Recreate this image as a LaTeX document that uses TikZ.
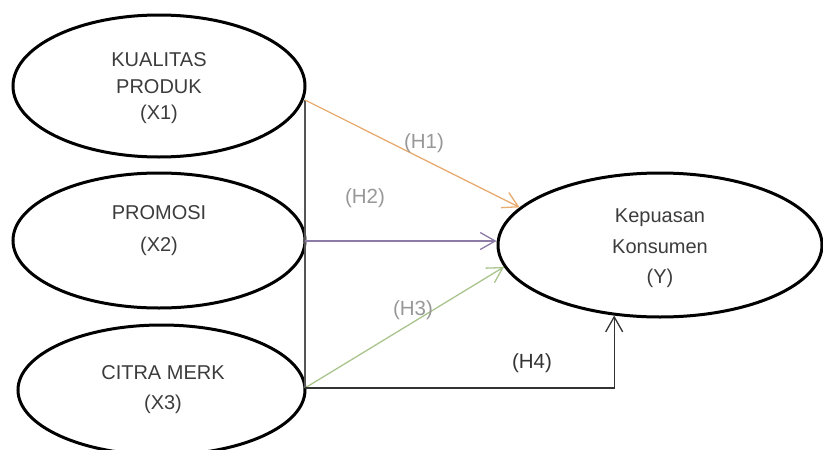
\documentclass[tikz,border=0pt]{standalone}
\usepackage{fontspec}
\setmainfont{Liberation Sans}
\usetikzlibrary{shapes.geometric,arrows.meta}

\definecolor{inktext}{HTML}{3C3C3C}
\definecolor{hlabel}{HTML}{989898}
\definecolor{hfour}{HTML}{333333}
\definecolor{orangeline}{HTML}{E9AC70}
\definecolor{purpleline}{HTML}{8C7BA6}
\definecolor{greenline}{HTML}{A9C48C}
\definecolor{trunk}{HTML}{555555}

\tikzset{
  var/.style={draw=black, line width=3pt, ellipse, inner sep=0pt},
  vtext/.style={text=inktext, align=center},
  hyp/.style={text=hlabel, font=\fontsize{20.5}{24}\selectfont},
  conn/.style={line width=1.3pt},
  tip/.style={-{Straight Barb[length=15pt,width=17pt,line width=1.3pt]}}
}

\begin{document}
\begin{tikzpicture}[x=1pt,y=-1pt]
\useasboundingbox (0,0) rectangle (823,450);

% latent variables
\node[var, minimum width=292pt, minimum height=142pt] (X1) at (159,86) {};
\node[var, minimum width=292pt, minimum height=135pt] (X2) at (159,240.5) {};
\node[var, minimum width=287pt, minimum height=130pt] (X3) at (161.5,390) {};
\node[var, minimum width=324pt, minimum height=144pt] (Y) at (660,245) {};

% variable names
\node[vtext, font=\fontsize{20}{26.5}\selectfont] (tX1) at (159,88.5) {KUALITAS\\PRODUK\\(X1)};
\node[vtext, font=\fontsize{20}{32}\selectfont] (tX2) at (159,231) {PROMOSI\\(X2)};
\node[vtext, font=\fontsize{20}{30}\selectfont] (tX3) at (163,390) {CITRA MERK\\(X3)};
\node[vtext, font=\fontsize{20}{30.5}\selectfont] (tY) at (660,248.5) {Kepuasan\\Konsumen\\(Y)};

% junction points on the common trunk
\coordinate (a1) at (305,100);
\coordinate (a2) at (305,241);
\coordinate (a3) at (305,388);

% trunk joining the three exogenous variables
\draw[conn, trunk] (a1) -- (a3);

% hypothesised paths
\draw[conn, orangeline, tip] (a1) -- (Y.165);
\draw[conn, purpleline, tip] (a2) -- (a2 -| Y.west);
\draw[conn, greenline, tip] (a3) -- (Y.188);
\draw[conn, hfour, tip] (a3) -| (Y.237);

% path labels
\node[hyp] (h1) at (424,143) {(H1)};
\node[hyp] (h2) at (365,198) {(H2)};
\node[hyp] (h3) at (413,310) {(H3)};
\node[hyp, text=hfour] (h4) at (532,363) {(H4)};
\end{tikzpicture}
\end{document}
